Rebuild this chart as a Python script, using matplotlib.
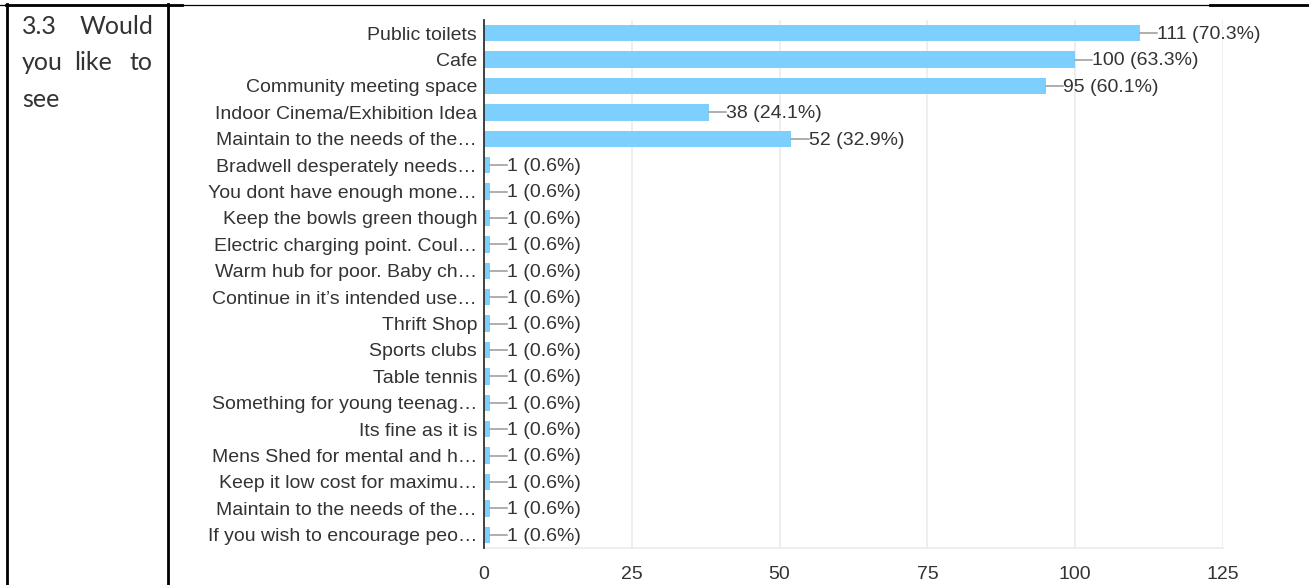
import matplotlib.pyplot as plt
from matplotlib.lines import Line2D

# survey answers, top to bottom as shown
labels = [
    "Public toilets",
    "Cafe",
    "Community meeting space",
    "Indoor Cinema/Exhibition Idea",
    "Maintain to the needs of the\u2026",
    "Bradwell desperately needs\u2026",
    "You dont have enough mone\u2026",
    "Keep the bowls green though",
    "Electric charging point. Coul\u2026",
    "Warm hub for poor. Baby ch\u2026",
    "Continue in it\u2019s intended use\u2026",
    "Thrift Shop",
    "Sports clubs",
    "Table tennis",
    "Something for young teenag\u2026",
    "Its fine as it is",
    "Mens Shed for mental and h\u2026",
    "Keep it low cost for maximu\u2026",
    "Maintain to the needs of the\u2026",
    "If you wish to encourage peo\u2026",
]
counts = [111, 100, 95, 38, 52] + [1] * 15
percents = [70.3, 63.3, 60.1, 24.1, 32.9] + [0.6] * 15
xticks = [0, 25, 50, 75, 100, 125]

W, H = 1309, 585
fig = plt.figure(figsize=(W / 100, H / 100), dpi=100)
plt.rcParams['font.family'] = ['Liberation Sans', 'DejaVu Sans']

txt_col = '#333333'
bar_col = '#7dcffd'

ax = fig.add_axes([484 / W, 1 - 548 / H, (1223 - 484) / W, (548 - 20) / H])
ypos = list(range(len(labels)))
ax.barh(ypos, counts, height=0.62, color=bar_col, zorder=2)
ax.set_ylim(len(labels) - 0.5, -0.5)
ax.set_xlim(0, 125)
ax.set_yticks(ypos)
ax.set_yticklabels(labels, fontsize=14, color=txt_col)
ax.set_xticks(xticks)
ax.set_xticklabels([str(t) for t in xticks], fontsize=14, color=txt_col)
ax.tick_params(axis='y', length=0, pad=5)
ax.tick_params(axis='x', length=0, pad=13)
ax.grid(axis='x', color='#ebebeb', linewidth=1.2, zorder=0)
for s in ['top', 'right']:
    ax.spines[s].set_visible(False)
ax.spines['bottom'].set_color('#ebebeb')
ax.spines['bottom'].set_linewidth(1.2)
ax.spines['left'].set_color('#333333')
ax.spines['left'].set_linewidth(1.3)
ax.spines['left'].set_zorder(3)

# leader lines + value labels
lead = 2.9
for y, c, p in zip(ypos, counts, percents):
    ax.plot([c, c + lead], [y, y], color='#999999', linewidth=1.1, zorder=3, clip_on=False)
    ax.text(c + lead, y + 0.05, f"{c} ({p}%)", fontsize=14, color=txt_col,
            va='center', ha='left', clip_on=False)

# table borders
def fline(x0, y0, x1, y1, lw):
    fig.add_artist(Line2D([x0 / W, x1 / W], [1 - y0 / H, 1 - y1 / H], color='black', linewidth=lw))

fline(0, 5, W, 5, 0.9)
fline(6, 5, 182, 5, 2.0)
fline(1210, 5, W, 5, 2.0)
fline(7, 4, 7, H, 2.0)
fline(168, 4, 168, H, 2.0)

# question text in the left cell
qfont = dict(family=['Lato', 'DejaVu Sans'], fontsize=18, color='#333333', va='center')
fig.text(22 / W, 1 - 26 / H, "3.3", ha='left', **qfont)
fig.text(153 / W, 1 - 26 / H, "Would", ha='right', **qfont)
fig.text(22 / W, 1 - 62 / H, "you", ha='left', **qfont)
fig.text(93 / W, 1 - 62 / H, "like", ha='center', **qfont)
fig.text(153 / W, 1 - 62 / H, "to", ha='right', **qfont)
fig.text(22 / W, 1 - 99 / H, "see", ha='left', **qfont)

fig.savefig("out.png", dpi=100)
